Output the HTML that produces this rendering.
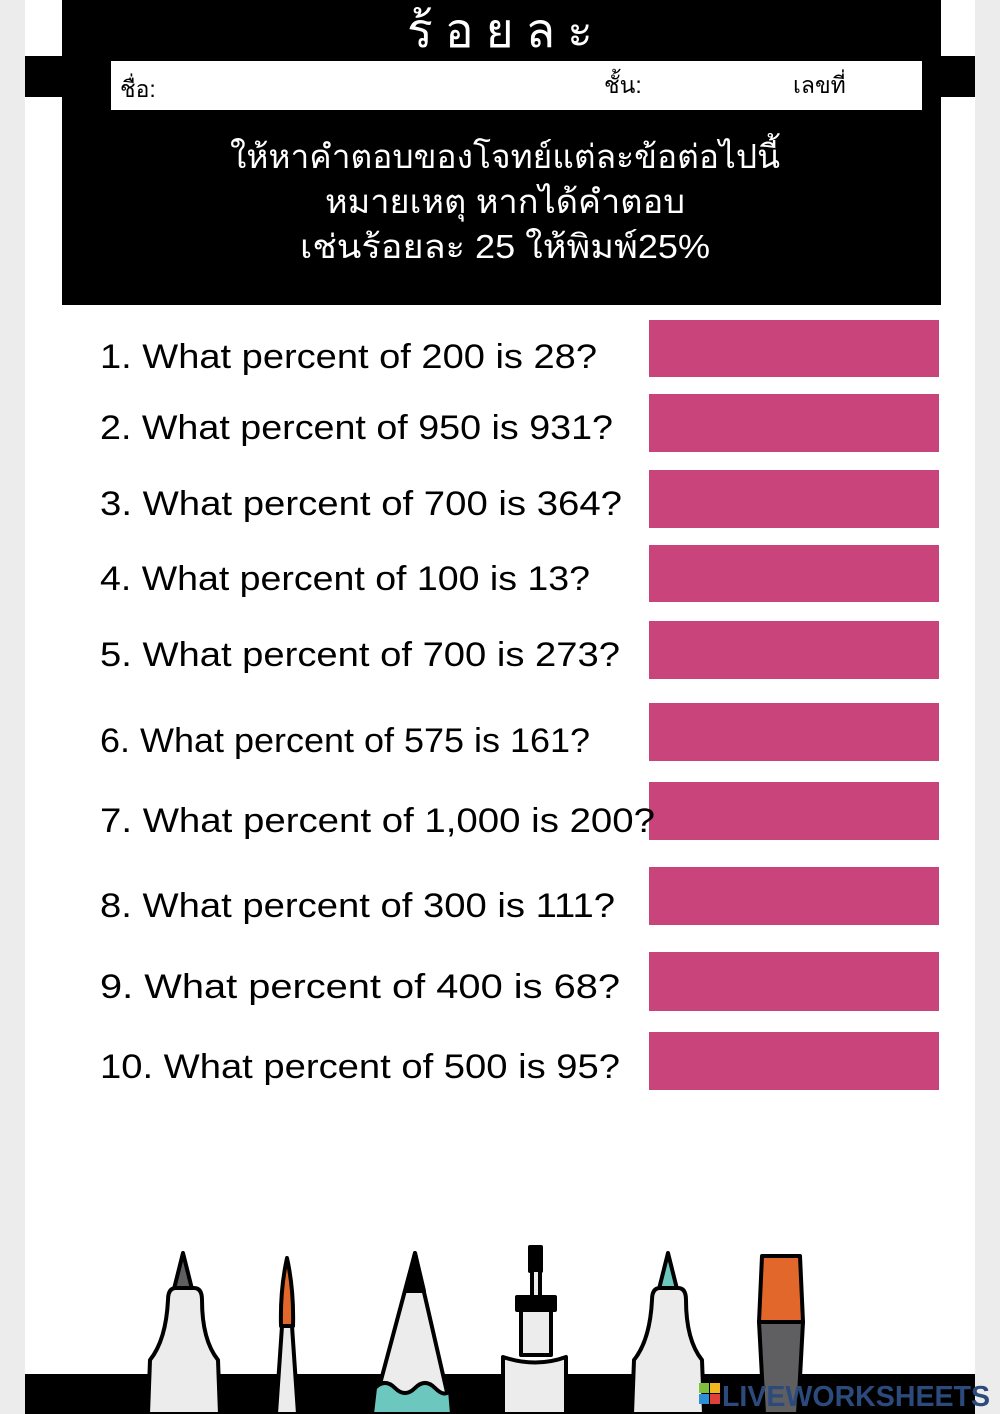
<!DOCTYPE html>
<html><head><meta charset="utf-8"><style>
html,body{margin:0;padding:0;background:#ededed;}
svg{display:block;}
</style></head><body>
<svg width="1000" height="1414" viewBox="0 0 1000 1414" xmlns="http://www.w3.org/2000/svg">
<rect x="0" y="0" width="1000" height="1414" fill="#ececec"/>
<rect x="25" y="0" width="950" height="1414" fill="#ffffff"/>
<rect x="25" y="56" width="950" height="41" fill="#000"/>
<rect x="62" y="0" width="879" height="305" fill="#000"/>
<rect x="111" y="61" width="811" height="49" fill="#fff"/>
<g font-family="'Liberation Sans','Noto Sans CJK SC',sans-serif">
<text x="506" y="47" fill="#fff" font-size="48" text-anchor="middle" letter-spacing="12">ร้อยละ</text>
<text x="120" y="97" fill="#000" font-size="23">ชื่อ:</text>
<text x="604" y="93" fill="#000" font-size="23">ชั้น:</text>
<text x="793" y="93" fill="#000" font-size="23">เลขที่</text>
<text x="230" y="168" fill="#fff" font-size="33" textLength="550" lengthAdjust="spacingAndGlyphs">ให้หาคำตอบของโจทย์แต่ละข้อต่อไปนี้</text>
<text x="325" y="213" fill="#fff" font-size="33" textLength="360" lengthAdjust="spacingAndGlyphs">หมายเหตุ หากได้คำตอบ</text>
<text x="300" y="258" fill="#fff" font-size="33" textLength="410" lengthAdjust="spacingAndGlyphs">เช่นร้อยละ 25 ให้พิมพ์25%</text>
</g>
<g fill="#c8447a">
<rect x="649" y="320" width="290" height="57"/>
<rect x="649" y="394" width="290" height="58"/>
<rect x="649" y="470" width="290" height="58"/>
<rect x="649" y="545" width="290" height="57"/>
<rect x="649" y="621" width="290" height="58"/>
<rect x="649" y="703" width="290" height="58"/>
<rect x="649" y="782" width="290" height="58"/>
<rect x="649" y="867" width="290" height="58"/>
<rect x="649" y="952" width="290" height="59"/>
<rect x="649" y="1032" width="290" height="58"/>
</g>
<g font-family="'Liberation Sans',sans-serif" font-size="34" fill="#000">
<text x="100" y="368" textLength="497" lengthAdjust="spacingAndGlyphs">1.  What percent of 200 is 28?</text>
<text x="100" y="439" textLength="513" lengthAdjust="spacingAndGlyphs">2.  What percent of 950 is 931?</text>
<text x="100" y="515" textLength="522" lengthAdjust="spacingAndGlyphs">3.  What percent of 700 is 364?</text>
<text x="100" y="590" textLength="490" lengthAdjust="spacingAndGlyphs">4.  What percent of 100 is 13?</text>
<text x="100" y="666" textLength="520" lengthAdjust="spacingAndGlyphs">5.  What percent of 700 is 273?</text>
<text x="100" y="752" textLength="490" lengthAdjust="spacingAndGlyphs">6. What percent of 575 is 161?</text>
<text x="100" y="832" textLength="555" lengthAdjust="spacingAndGlyphs">7. What percent of 1,000 is 200?</text>
<text x="100" y="917" textLength="515" lengthAdjust="spacingAndGlyphs">8.  What percent of 300 is 111?</text>
<text x="100" y="998" textLength="520" lengthAdjust="spacingAndGlyphs">9.  What percent of 400 is 68?</text>
<text x="100" y="1078" textLength="520" lengthAdjust="spacingAndGlyphs">10. What percent of 500 is 95?</text>
</g>
<rect x="25" y="1374" width="950" height="40" fill="#000"/>
<g stroke="#000" stroke-width="4" stroke-linejoin="round">
<path d="M174 1289 L183 1253 L192 1289 Z" fill="#5f5f62"/>
<path d="M148 1414 L150 1360 Q166 1340 168 1300 Q168 1288 176 1288 L194 1288 Q202 1288 202 1300 Q202 1340 218 1360 L220 1414 Z" fill="#ececec"/>
<path d="M281 1326 Q280 1290 287 1258 Q294 1290 293 1326 Z" fill="#e2672a"/>
<path d="M282 1326 L292 1326 L298 1414 L276 1414 Z" fill="#ececec"/>
<path d="M415 1253 L452 1414 L372 1414 Z" fill="#ececec"/>
<path d="M415 1253 L424 1291 L406 1291 Z" fill="#000"/>
<path d="M375 1388 Q385 1378 395 1388 Q405 1398 415 1388 Q425 1378 435 1388 Q445 1398 450 1390 L452 1414 L372 1414 Z" fill="#6cc7be"/>
<rect x="530" y="1247" width="11" height="24" fill="#000"/>
<rect x="532" y="1270" width="8" height="28" fill="#ececec"/>
<rect x="517" y="1297" width="38" height="13" fill="#000"/>
<rect x="521" y="1310" width="30" height="45" fill="#ececec"/>
<path d="M503 1414 L503 1357 Q536 1368 566 1357 L566 1414 Z" fill="#ececec"/>
<path d="M659 1289 L668 1253 L677 1289 Z" fill="#6cc7be"/>
<path d="M632 1414 L634 1360 Q650 1340 652 1300 Q652 1288 660 1288 L678 1288 Q686 1288 686 1300 Q686 1340 702 1360 L704 1414 Z" fill="#ececec"/>
<path d="M762 1256 L800 1256 L803 1322 L759 1322 Z" fill="#e2672a"/>
<path d="M759 1322 L803 1322 L798 1414 L764 1414 Z" fill="#5f5f62"/>
</g>
<g font-family="'Liberation Sans',sans-serif" font-weight="bold">
<rect x="699" y="1383" width="10" height="10" fill="#7fbf3f"/>
<rect x="710" y="1383" width="10" height="10" fill="#f2b61e"/>
<rect x="699" y="1394" width="10" height="10" fill="#2e8fd6"/>
<rect x="710" y="1394" width="10" height="10" fill="#e0403a"/>
<text x="722" y="1406" font-size="29" fill="#2c4a7c" textLength="268" lengthAdjust="spacingAndGlyphs">LIVEWORKSHEETS</text>
</g>
</svg>
</body></html>
